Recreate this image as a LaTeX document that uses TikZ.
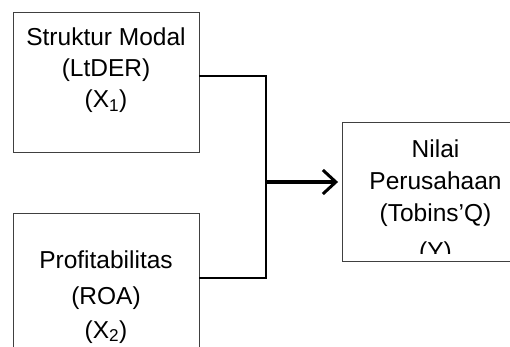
\documentclass[tikz,border=0pt]{standalone}
\usepackage{fontspec}
\setmainfont{Liberation Sans}
\usetikzlibrary{arrows.meta}
\begin{document}
\begin{tikzpicture}[x=1pt,y=-1pt,
  boxnode/.style={draw=black!75,line width=0.9pt,rectangle,inner sep=0pt,minimum width=186pt,minimum height=140pt},
  txt/.style={inner sep=0pt,anchor=base,font=\fontsize{24.5}{30}\selectfont},
  conn/.style={line width=1.8pt,black},
  bigarrow/.style={line width=3pt,black,-{Straight Barb[length=13pt,width=24pt,line width=3pt]}}]
\useasboundingbox (0,0) rectangle (510,347);
\node[boxnode] (b1) at (106,82) {};
\node[boxnode] (b2) at (106,283) {};
\node[boxnode,minimum height=139pt] (b3) at (435.5,192) {};
% texts
\node[txt] (t11) at (106,46) {Struktur Modal};
\node[txt] (t12) at (106,77) {(LtDER)};
\node[txt] (t13) at (106,107.5) {(X\textsubscript{1})};
\node[txt] (t21) at (106,268) {Profitabilitas};
\node[txt] (t22) at (106,304) {(ROA)};
\node[txt] (t23) at (106,338) {(X\textsubscript{2})};
\begin{scope}
\clip (343,123) rectangle (528,253);
\node[txt] (t31) at (435.5,158) {Nilai};
\node[txt] (t32) at (435.5,189.5) {Perusahaan};
\node[txt] (t33) at (435.5,221) {(Tobins’Q)};
\node[txt] (t34) at (435.5,259) {(Y)};
\end{scope}
% connectors
\coordinate (j1) at (266,76);
\coordinate (j2) at (266,278);
\coordinate (jm) at (266,182);
\draw[conn] (b1.east |- j1) -- (j1) -- (j2) -- (b2.east |- j2);
\draw[bigarrow,shorten >=4pt] (jm) -- (b3.west |- jm);
\end{tikzpicture}
\end{document}
